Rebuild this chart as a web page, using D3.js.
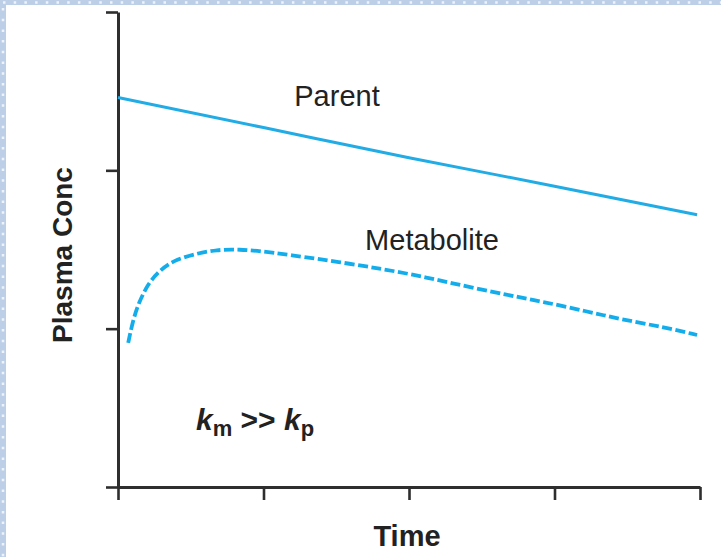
<!DOCTYPE html>
<html><head><meta charset="utf-8">
<script src="https://cdn.jsdelivr.net/npm/d3@7"></script>
<style>html,body{margin:0;padding:0;background:#fff;}svg{display:block;}</style>
</head><body>
<svg id="c" width="721" height="557"></svg>
<script>
const xTicks = [0, 1, 2, 3, 4];
const yTicks = [0, 1, 2, 3];
const parentTime = [0, 1, 2, 3, 3.98];
const parentConc = [2.46, 2.27, 2.08, 1.90, 1.72];
const metTime = [0.07, 0.10, 0.14, 0.21, 0.29, 0.38, 0.52, 0.68, 0.84, 0.98, 1.15, 1.60, 1.99, 2.28, 2.69, 2.92, 3.22, 3.45, 3.75, 3.98];
const metConc = [0.91, 1.04, 1.16, 1.29, 1.37, 1.43, 1.47, 1.50, 1.50, 1.49, 1.47, 1.41, 1.35, 1.29, 1.21, 1.17, 1.11, 1.06, 1.01, 0.96];

const svg = d3.select('#c');
svg.append('rect').attr('x',0).attr('y',0).attr('width',721).attr('height',5).attr('fill','#bccfe7');
svg.append('rect').attr('x',0).attr('y',0).attr('width',6).attr('height',557).attr('fill','#bccfe7');
svg.append('line').attr('x1',3).attr('x2',721).attr('y1',2.5).attr('y2',2.5)
  .attr('stroke','#eef3fa').attr('stroke-width',2.5).attr('stroke-dasharray','2.5,8.2');
svg.append('line').attr('x1',3).attr('x2',3).attr('y1',8).attr('y2',557)
  .attr('stroke','#eef3fa').attr('stroke-width',2.5).attr('stroke-dasharray','2.5,8.2');

const x = d3.scaleLinear().domain([0,4]).range([118,700]);
const y = d3.scaleLinear().domain([0,3]).range([487,12]);

const axisColor = '#2e2e2e';
const gy = svg.append('g').attr('transform','translate(118,0)')
  .call(d3.axisLeft(y).tickValues(yTicks).tickSize(12).tickSizeOuter(0).tickFormat(''));
const gx = svg.append('g').attr('transform','translate(0,487)')
  .call(d3.axisBottom(x).tickValues(xTicks).tickSize(13).tickSizeOuter(0).tickFormat(''));
[gx, gy].forEach(g => {
  g.select('.domain').attr('stroke',axisColor).attr('stroke-width',3);
  g.selectAll('.tick line').attr('stroke',axisColor).attr('stroke-width',2.6);
});

svg.append('path').datum(parentTime.map((t,i)=>[t,parentConc[i]]))
  .attr('d', d3.line().x(d=>x(d[0])).y(d=>y(d[1])).curve(d3.curveMonotoneX))
  .attr('fill','none').attr('stroke','#22ace6').attr('stroke-width',3);

svg.append('path').datum(metTime.map((t,i)=>[t,metConc[i]]))
  .attr('d', d3.line().x(d=>x(d[0])).y(d=>y(d[1])).curve(d3.curveBasis))
  .attr('fill','none').attr('stroke','#14adec').attr('stroke-width',3.8)
  .attr('stroke-dasharray','10,3.5');

const font = 'Liberation Sans, Arial, Helvetica, sans-serif';
const tc = '#222';
svg.append('text').attr('x',337).attr('y',106).attr('text-anchor','middle')
  .attr('font-family',font).attr('font-size',29).attr('fill',tc).text('Parent');
svg.append('text').attr('x',432).attr('y',250).attr('text-anchor','middle')
  .attr('font-family',font).attr('font-size',29).attr('fill',tc).text('Metabolite');
svg.append('text').attr('x',407).attr('y',546).attr('text-anchor','middle')
  .attr('font-family',font).attr('font-size',29).attr('font-weight','bold').attr('fill',tc).text('Time');
svg.append('text').attr('transform','translate(72,255) rotate(-90)').attr('text-anchor','middle')
  .attr('font-family',font).attr('font-size',28).attr('font-weight','bold').attr('fill',tc).text('Plasma Conc');

const k = svg.append('text').attr('x',196).attr('y',430)
  .attr('font-family',font).attr('font-weight','bold').attr('fill',tc).attr('font-size',30);
k.append('tspan').attr('font-style','italic').text('k');
k.append('tspan').attr('font-size',22).attr('dy',6).text('m');
k.append('tspan').attr('dy',-6).text(' >> ');
k.append('tspan').attr('font-style','italic').text('k');
k.append('tspan').attr('font-size',22).attr('dy',6).text('p');
</script>
</body></html>
